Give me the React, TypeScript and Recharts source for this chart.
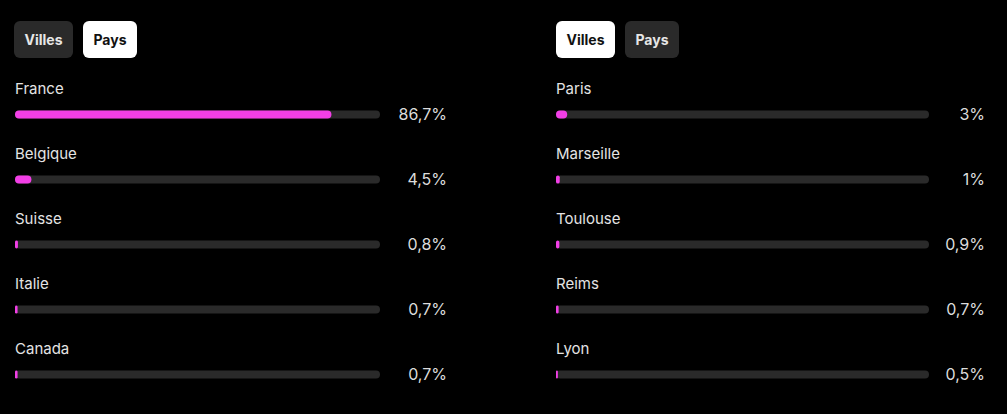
import { Bar, BarChart, LabelList, XAxis, YAxis } from 'recharts';

const COUNTRIES = ['France', 'Belgique', 'Suisse', 'Italie', 'Canada'];
const COUNTRY_SHARE = [86.7, 4.5, 0.8, 0.7, 0.7];

const CITIES = ['Paris', 'Marseille', 'Toulouse', 'Reims', 'Lyon'];
const CITY_SHARE = [3, 1, 0.9, 0.7, 0.5];

const PINK = '#f23fe6';
const TRACK = '#2a2a2a';
const FONT = 'Inter, "Noto Sans", sans-serif';

const fmt = (v: number) => String(v).replace('.', ',') + '%';

function Toggle({ left, active }: { left: number; active: 'Villes' | 'Pays' }) {
  const btn = (label: 'Villes' | 'Pays', x: number, w: number) => (
    <div
      style={{
        position: 'absolute',
        left: x,
        top: 21,
        width: w,
        height: 37,
        borderRadius: 6,
        background: active === label ? '#ffffff' : '#2a2a2a',
        color: active === label ? '#111' : '#e6e6e6',
        fontWeight: 700,
        fontSize: 14,
        fontFamily: FONT,
        display: 'flex',
        alignItems: 'center',
        justifyContent: 'center',
      }}
    >
      {label}
    </div>
  );
  return (
    <>
      {btn('Villes', left, 59)}
      {btn('Pays', left + 69, 54)}
    </>
  );
}

function ShareBars({
  names,
  values,
  width,
  plotRight,
  valueX,
}: {
  names: string[];
  values: number[];
  width: number;
  plotRight: number;
  valueX: number;
}) {
  const data = names.map((name, i) => ({ name, value: values[i] }));
  return (
    <BarChart
      width={width}
      height={414}
      layout="vertical"
      data={data}
      margin={{ top: 81.5, right: plotRight, bottom: 7.5, left: 15 }}
    >
      <XAxis type="number" domain={[0, 100]} hide />
      <YAxis type="category" dataKey="name" hide />
      <Bar
        dataKey="value"
        fill={PINK}
        barSize={8}
        radius={4}
        background={{ fill: TRACK, radius: 4 }}
        isAnimationActive={false}
      >
        <LabelList
          dataKey="name"
          content={(p: any) => (
            <text x={p.x} y={p.y - 22} fill="#e4e4e4" fontSize={15} fontFamily={FONT} dominantBaseline="central">
              {p.value}
            </text>
          )}
        />
        <LabelList
          dataKey="value"
          content={(p: any) => (
            <text
              x={valueX}
              y={p.y + 3}
              fill="#dcdcdc"
              fontSize={16}
              fontFamily={FONT}
              textAnchor="end"
              dominantBaseline="central"
            >
              {fmt(p.value)}
            </text>
          )}
        />
      </Bar>
    </BarChart>
  );
}

export default function App() {
  return (
    <div style={{ position: 'fixed', left: 0, top: 0, width: 1007, height: 414, background: '#000', overflow: 'hidden' }}>
      <Toggle left={14} active="Pays" />
      <Toggle left={556} active="Villes" />
      <div style={{ position: 'absolute', left: 0, top: 0 }}>
        <ShareBars names={COUNTRIES} values={COUNTRY_SHARE} width={470} plotRight={90} valueX={447} />
      </div>
      <div style={{ position: 'absolute', left: 541, top: 0 }}>
        <ShareBars names={CITIES} values={CITY_SHARE} width={466} plotRight={78} valueX={444} />
      </div>
    </div>
  );
}
